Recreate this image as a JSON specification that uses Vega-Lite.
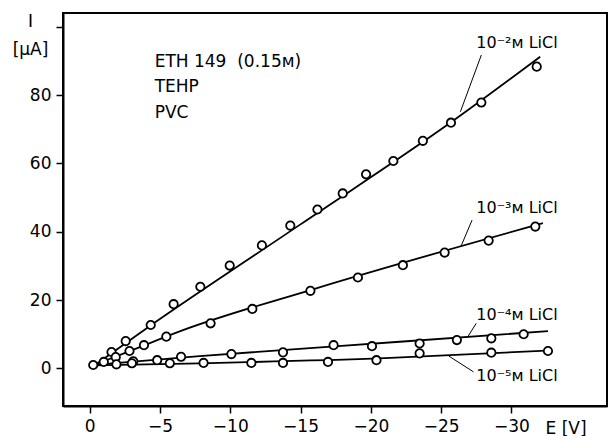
{
  "$schema": "https://vega.github.io/schema/vega-lite/v6.json",
  "width": 544,
  "height": 393,
  "autosize": {"type": "none"},
  "padding": {"left": 63, "top": 13, "right": 3, "bottom": 30},
  "background": "white",
  "config": {
    "font": "DejaVu Sans",
    "view": {"stroke": "black", "strokeWidth": 2},
    "axis": {
      "grid": false,
      "domainColor": "black",
      "domainWidth": 2,
      "tickColor": "black",
      "tickWidth": 1.5,
      "tickSize": 7,
      "labelColor": "black",
      "labelFont": "DejaVu Sans",
      "labelFontSize": 17,
      "labelPadding": 5,
      "titleColor": "black",
      "titleFont": "DejaVu Sans",
      "titleFontSize": 17,
      "titleFontWeight": "normal"
    }
  },
  "datasets": {
    "points": [
      {"series": "s", "E": -0.25, "I": 1.0},
      {"series": "2", "E": -1.55, "I": 4.8},
      {"series": "2", "E": -2.56, "I": 8.0},
      {"series": "2", "E": -4.34, "I": 12.7},
      {"series": "2", "E": -5.97, "I": 18.8},
      {"series": "2", "E": -7.87, "I": 23.9},
      {"series": "2", "E": -9.96, "I": 30.1},
      {"series": "2", "E": -12.25, "I": 36.0},
      {"series": "2", "E": -14.27, "I": 41.8},
      {"series": "2", "E": -16.2, "I": 46.5},
      {"series": "2", "E": -18.0, "I": 51.2},
      {"series": "2", "E": -19.66, "I": 56.8},
      {"series": "2", "E": -21.6, "I": 60.7},
      {"series": "2", "E": -23.7, "I": 66.6},
      {"series": "2", "E": -25.7, "I": 71.9},
      {"series": "2", "E": -27.86, "I": 77.8},
      {"series": "2", "E": -31.8, "I": 88.3},
      {"series": "3", "E": -1.85, "I": 3.3},
      {"series": "3", "E": -2.83, "I": 5.1},
      {"series": "3", "E": -3.86, "I": 6.8},
      {"series": "3", "E": -5.45, "I": 9.3},
      {"series": "3", "E": -8.6, "I": 13.2},
      {"series": "3", "E": -11.57, "I": 17.4},
      {"series": "3", "E": -15.7, "I": 22.7},
      {"series": "3", "E": -19.08, "I": 26.6},
      {"series": "3", "E": -22.28, "I": 30.2},
      {"series": "3", "E": -25.25, "I": 33.9},
      {"series": "3", "E": -28.38, "I": 37.4},
      {"series": "3", "E": -31.7, "I": 41.5},
      {"series": "4", "E": -1.0, "I": 1.9},
      {"series": "4", "E": -3.1, "I": 2.1},
      {"series": "4", "E": -4.8, "I": 2.4},
      {"series": "4", "E": -6.5, "I": 3.4},
      {"series": "4", "E": -10.08, "I": 4.2},
      {"series": "4", "E": -13.75, "I": 4.7},
      {"series": "4", "E": -17.35, "I": 6.8},
      {"series": "4", "E": -20.08, "I": 6.5},
      {"series": "4", "E": -23.47, "I": 7.3},
      {"series": "4", "E": -26.12, "I": 8.3},
      {"series": "4", "E": -28.57, "I": 8.8},
      {"series": "4", "E": -30.87, "I": 10.0},
      {"series": "5", "E": -1.9, "I": 1.2},
      {"series": "5", "E": -3.0, "I": 1.5},
      {"series": "5", "E": -5.7, "I": 1.5},
      {"series": "5", "E": -8.1, "I": 1.6},
      {"series": "5", "E": -11.5, "I": 1.6},
      {"series": "5", "E": -13.75, "I": 1.6},
      {"series": "5", "E": -16.95, "I": 1.9},
      {"series": "5", "E": -20.4, "I": 2.4},
      {"series": "5", "E": -23.47, "I": 4.4},
      {"series": "5", "E": -28.57, "I": 4.6},
      {"series": "5", "E": -32.6, "I": 5.1}
    ],
    "fits": [
      {"series": "2", "E": -0.3, "I": 0.8},
      {"series": "2", "E": -4.03, "I": 11.7},
      {"series": "2", "E": -14.94, "I": 42.0},
      {"series": "2", "E": -25.7, "I": 72.0},
      {"series": "2", "E": -32.05, "I": 91.2},
      {"series": "3", "E": -0.3, "I": 1.0},
      {"series": "3", "E": -2.8, "I": 5.0},
      {"series": "3", "E": -6.64, "I": 11.2},
      {"series": "3", "E": -16.0, "I": 23.3},
      {"series": "3", "E": -32.24, "I": 42.5},
      {"series": "4", "E": -0.3, "I": 1.0},
      {"series": "4", "E": -7.82, "I": 3.6},
      {"series": "4", "E": -22.05, "I": 7.8},
      {"series": "4", "E": -32.6, "I": 10.9},
      {"series": "5", "E": -0.3, "I": 0.9},
      {"series": "5", "E": -7.82, "I": 1.5},
      {"series": "5", "E": -21.0, "I": 3.0},
      {"series": "5", "E": -32.5, "I": 5.2}
    ],
    "arrows": [
      {"E": -27.86, "I": 91.7, "E2": -26.37, "I2": 75.1},
      {"E": -27.2, "I": 43.4, "E2": -26.4, "I2": 35.6},
      {"E": -27.5, "I": 13.2, "E2": -26.9, "I2": 9.3},
      {"E": -27.3, "I": -1.0, "E2": -25.55, "I2": 3.6}
    ],
    "labels": [
      {"E": -27.5, "I": 95.2, "text": "10⁻²ᴍ LiCl"},
      {"E": -27.5, "I": 46.9, "text": "10⁻³ᴍ LiCl"},
      {"E": -27.5, "I": 15.6, "text": "10⁻⁴ᴍ LiCl"},
      {"E": -27.5, "I": -2.3, "text": "10⁻⁵ᴍ LiCl"}
    ],
    "notes": [
      {"E": -4.62, "I": 89.8, "text": "ETH 149\u00a0\u00a0(0.15ᴍ)"},
      {"E": -4.62, "I": 82.3, "text": "TEHP"},
      {"E": -4.62, "I": 74.8, "text": "PVC"}
    ]
  },
  "encoding": {
    "x": {
      "field": "E",
      "type": "quantitative",
      "scale": {"domain": [1.9, -36.8], "nice": false, "zero": false},
      "axis": {
        "values": [0, -5, -10, -15, -20, -25, -30],
        "title": "E [V]",
        "titleX": 482,
        "titleY": 22,
        "titleAlign": "left",
        "titleBaseline": "middle"
      }
    },
    "y": {
      "field": "I",
      "type": "quantitative",
      "scale": {"domain": [-11, 104], "nice": false, "zero": false},
      "axis": {
        "values": [0, 20, 40, 60, 80, 100],
        "labelExpr": "datum.value == 100 ? '' : datum.label",
        "title": ["I", "[μA]"],
        "titleAngle": 0,
        "titleAlign": "center",
        "titleBaseline": "top",
        "titleX": -33,
        "titleY": 0,
        "titleLineHeight": 28
      }
    }
  },
  "layer": [
    {
      "data": {"name": "fits"},
      "mark": {"type": "line", "color": "black", "strokeWidth": 1.8, "interpolate": "monotone"},
      "encoding": {"detail": {"field": "series"}, "order": {"field": "E", "sort": "descending"}}
    },
    {
      "data": {"name": "arrows"},
      "mark": {"type": "rule", "color": "black", "strokeWidth": 1},
      "encoding": {"x2": {"field": "E2"}, "y2": {"field": "I2"}}
    },
    {
      "data": {"name": "points"},
      "mark": {"type": "point", "shape": "circle", "filled": false, "fill": "white", "fillOpacity": 1, "stroke": "black", "strokeWidth": 1.8, "size": 70, "opacity": 1}
    },
    {
      "data": {"name": "labels"},
      "mark": {"type": "text", "align": "left", "baseline": "middle", "fontSize": 16, "font": "DejaVu Sans", "color": "black"},
      "encoding": {"text": {"field": "text"}}
    },
    {
      "data": {"name": "notes"},
      "mark": {"type": "text", "align": "left", "baseline": "middle", "fontSize": 17, "font": "DejaVu Sans", "color": "black"},
      "encoding": {"text": {"field": "text"}}
    }
  ]
}
